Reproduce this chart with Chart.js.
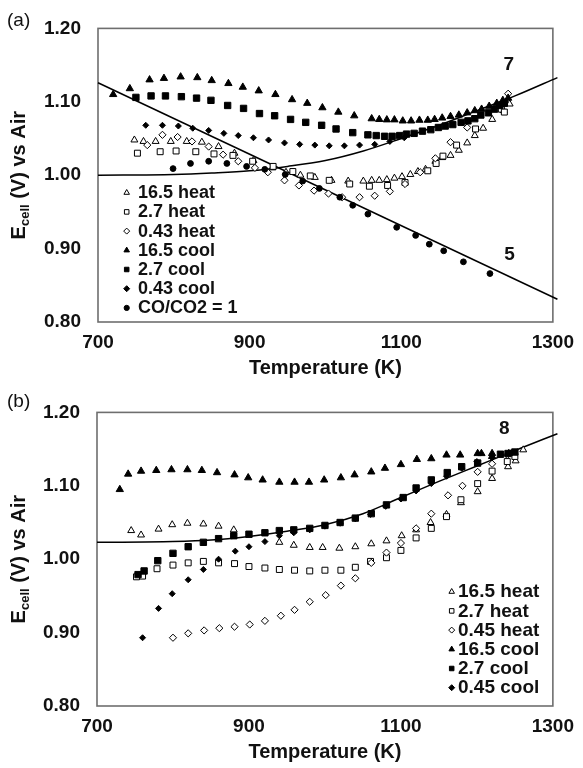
<!DOCTYPE html>
<html><head><meta charset="utf-8">
<script src="https://cdn.jsdelivr.net/npm/chart.js@4"></script>
<style>
html,body{margin:0;padding:0;background:#fff;}
.wrap{position:absolute;left:0;width:583px;height:384px;}
canvas{display:block;}
</style></head><body>
<div class="wrap" style="top:0"><canvas id="ca" width="583" height="384"></canvas></div>
<div class="wrap" style="top:384px"><canvas id="cb" width="583" height="384"></canvas></div>
<script>
// ---------- tick labels ----------
const xTicks = [700, 900, 1100, 1300];
const yTicks = [0.80, 0.90, 1.00, 1.10, 1.20];

// ---------- panel (a) ----------
const aLabels = ['16.5 heat', '2.7 heat', '0.43 heat', '16.5 cool', '2.7 cool', '0.43 cool', 'CO/CO2 = 1'];

const aT_165heat = [748, 760, 776, 796, 817, 837, 859, 880, 905, 930, 948, 967, 986, 1008, 1030, 1050, 1061, 1071, 1081, 1091, 1101, 1112, 1122, 1132, 1145, 1154, 1165, 1176, 1187, 1197, 1208, 1220, 1235, 1243];
const aE_165heat = [1.048, 1.046, 1.046, 1.046, 1.046, 1.045, 1.039, 1.030, 1.020, 1.010, 1.004, 1.000, 0.997, 0.993, 0.992, 0.992, 0.993, 0.993, 0.994, 0.996, 0.998, 1.001, 1.005, 1.008, 1.019, 1.024, 1.027, 1.034, 1.044, 1.054, 1.064, 1.076, 1.088, 1.097];

const aT_27heat = [752, 782, 803, 829, 853, 878, 904, 931, 957, 980, 1005, 1032, 1058, 1082, 1105, 1135, 1146, 1155, 1173, 1198, 1232, 1236];
const aE_27heat = [1.030, 1.032, 1.033, 1.032, 1.029, 1.027, 1.019, 1.012, 1.005, 0.999, 0.993, 0.988, 0.985, 0.986, 0.990, 1.006, 1.016, 1.026, 1.041, 1.063, 1.090, 1.086];

const aT_043heat = [765, 785, 805, 824, 846, 865, 885, 907, 924, 946, 965, 985, 1004, 1022, 1045, 1065, 1085, 1105, 1125, 1145, 1165, 1187, 1241];
const aE_043heat = [1.041, 1.055, 1.052, 1.046, 1.039, 1.028, 1.019, 1.010, 1.004, 0.993, 0.986, 0.979, 0.975, 0.970, 0.970, 0.972, 0.978, 0.988, 1.004, 1.023, 1.045, 1.065, 1.111];

const aT_165cool = [720, 742, 768, 787, 809, 831, 850, 872, 891, 912, 934, 956, 976, 996, 1017, 1038, 1061, 1071, 1081, 1091, 1102, 1113, 1124, 1135, 1144, 1154, 1165, 1176, 1187, 1197, 1206, 1216, 1226, 1234, 1241];
const aE_165cool = [1.110, 1.118, 1.130, 1.132, 1.134, 1.133, 1.129, 1.125, 1.120, 1.115, 1.110, 1.103, 1.098, 1.092, 1.086, 1.081, 1.077, 1.076, 1.0755, 1.0755, 1.074, 1.074, 1.075, 1.075, 1.076, 1.078, 1.080, 1.082, 1.085, 1.088, 1.090, 1.094, 1.098, 1.102, 1.105];

const aT_27cool = [750, 770, 789, 810, 830, 849, 871, 892, 913, 933, 954, 974, 995, 1014, 1036, 1056, 1067, 1078, 1088, 1098, 1107, 1117, 1128, 1139, 1149, 1158, 1168, 1179, 1188, 1197, 1205, 1215, 1223, 1230, 1236];
const aE_27cool = [1.106, 1.108, 1.108, 1.107, 1.105, 1.102, 1.095, 1.091, 1.084, 1.081, 1.076, 1.072, 1.068, 1.063, 1.058, 1.055, 1.054, 1.053, 1.053, 1.054, 1.056, 1.057, 1.060, 1.062, 1.065, 1.067, 1.069, 1.072, 1.074, 1.077, 1.082, 1.085, 1.090, 1.095, 1.098];

const aT_043cool = [763, 785, 806, 825, 846, 866, 885, 905, 925, 946, 966, 986, 1005, 1025, 1045, 1065, 1085, 1104];
const aE_043cool = [1.068, 1.068, 1.067, 1.064, 1.061, 1.057, 1.054, 1.051, 1.048, 1.044, 1.042, 1.041, 1.040, 1.040, 1.041, 1.042, 1.046, 1.051];

const aT_co = [799, 822, 846, 870, 896, 920, 947, 970, 992, 1019, 1036, 1056, 1094, 1119, 1137, 1156, 1182, 1217];
const aE_co = [1.009, 1.016, 1.019, 1.016, 1.012, 1.008, 1.001, 0.992, 0.982, 0.970, 0.959, 0.947, 0.929, 0.918, 0.906, 0.897, 0.882, 0.866];

const aT_line5 = [700, 1306];
const aE_line5 = [1.126, 0.831];
const aT_line7 = [700, 800, 850, 900, 950, 1000, 1050, 1100, 1150, 1200, 1250, 1306];
const aE_line7 = [1.000, 1.001, 1.003, 1.006, 1.012, 1.020, 1.033, 1.050, 1.068, 1.088, 1.108, 1.133];

// ---------- panel (b) ----------
const bLabels = ['16.5 heat', '2.7 heat', '0.45 heat', '16.5 cool', '2.7 cool', '0.45 cool'];

const bT_165heat = [745, 758, 781, 799, 819, 840, 860, 880, 940, 959, 980, 997, 1019, 1040, 1061, 1081, 1101, 1120, 1139, 1160, 1179, 1201, 1220, 1241, 1251, 1261];
const bE_165heat = [1.039, 1.033, 1.041, 1.047, 1.049, 1.048, 1.045, 1.040, 1.023, 1.019, 1.016, 1.016, 1.015, 1.017, 1.021, 1.025, 1.032, 1.040, 1.050, 1.061, 1.077, 1.092, 1.110, 1.126, 1.134, 1.149];

const bT_27heat = [752, 760, 779, 800, 820, 840, 860, 881, 900, 921, 940, 960, 980, 1000, 1021, 1040, 1060, 1081, 1100, 1120, 1140, 1160, 1179, 1201, 1220, 1240, 1250];
const bE_27heat = [0.976, 0.977, 0.987, 0.992, 0.995, 0.997, 0.995, 0.994, 0.990, 0.988, 0.986, 0.985, 0.984, 0.985, 0.985, 0.989, 0.997, 1.002, 1.012, 1.029, 1.042, 1.058, 1.081, 1.103, 1.120, 1.133, 1.140];

const bT_045heat = [800, 820, 841, 861, 881, 901, 921, 942, 960, 980, 1001, 1021, 1040, 1061, 1081, 1100, 1120, 1140, 1162, 1181, 1201, 1220, 1240];
const bE_045heat = [0.893, 0.899, 0.903, 0.906, 0.908, 0.911, 0.916, 0.923, 0.931, 0.942, 0.951, 0.964, 0.974, 0.995, 1.009, 1.022, 1.042, 1.062, 1.087, 1.100, 1.119, 1.130, 1.142];

const bT_165cool = [730, 741, 758, 778, 798, 819, 838, 858, 881, 899, 918, 940, 960, 979, 999, 1021, 1039, 1061, 1079, 1100, 1121, 1140, 1160, 1178, 1201, 1206, 1220, 1220, 1242];
const bE_165cool = [1.095, 1.116, 1.120, 1.121, 1.122, 1.122, 1.121, 1.118, 1.115, 1.111, 1.108, 1.105, 1.105, 1.105, 1.108, 1.111, 1.115, 1.119, 1.124, 1.129, 1.136, 1.137, 1.142, 1.142, 1.144, 1.144, 1.144, 1.140, 1.144];

const bT_27cool = [754, 762, 780, 800, 820, 840, 860, 880, 900, 921, 940, 959, 980, 1000, 1020, 1040, 1061, 1081, 1103, 1120, 1140, 1161, 1180, 1201, 1231, 1241, 1250];
const bE_27cool = [0.979, 0.984, 0.998, 1.008, 1.017, 1.023, 1.028, 1.032, 1.034, 1.036, 1.039, 1.040, 1.042, 1.046, 1.050, 1.056, 1.062, 1.074, 1.084, 1.097, 1.108, 1.118, 1.126, 1.131, 1.143, 1.144, 1.146];

const bT_045cool = [760, 781, 799, 820, 840, 860, 882, 900, 921, 940, 959, 980, 1000, 1020, 1040, 1060, 1080, 1100, 1120, 1140, 1160, 1180, 1200, 1220, 1245];
const bE_045cool = [0.893, 0.933, 0.953, 0.972, 0.986, 1.000, 1.011, 1.017, 1.024, 1.032, 1.036, 1.040, 1.045, 1.049, 1.055, 1.061, 1.072, 1.082, 1.093, 1.103, 1.113, 1.124, 1.133, 1.138, 1.145];

const bT_line8 = [700, 800, 850, 900, 950, 1000, 1050, 1100, 1150, 1200, 1250, 1306];
const bE_line8 = [1.023, 1.024, 1.026, 1.031, 1.038, 1.047, 1.062, 1.084, 1.106, 1.127, 1.148, 1.171];

// ---------- helpers ----------
const FONT = "'Liberation Sans', Arial, Helvetica, sans-serif";
const pts = (t, e) => t.map((x, i) => ({x: x, y: e[i]}));

const STY = {
  openTri:  {pointStyle: 'triangle', radius: 4,   fill: '#fff', lg: 3.2},
  openSq:   {pointStyle: 'rect',     radius: 4.2, fill: '#fff', lg: 3.2},
  openDia:  {pointStyle: 'rectRot',  radius: 3.6, fill: '#fff', lg: 3},
  fillTri:  {pointStyle: 'triangle', radius: 4.2, fill: '#000', lg: 3.2},
  fillSq:   {pointStyle: 'rect',     radius: 4.5, fill: '#000', lg: 3.2},
  fillDia:  {pointStyle: 'rectRot',  radius: 3,   fill: '#000', lg: 3},
  fillCirc: {pointStyle: 'circle',   radius: 2.9, fill: '#000', lg: 2.6}
};

function sds(label, data, st) {
  return {
    label: label, data: data, showLine: false,
    pointStyle: st.pointStyle, pointRadius: st.radius, pointHoverRadius: st.radius,
    pointBackgroundColor: st.fill, pointBorderColor: '#000', pointBorderWidth: 1,
    legendStyle: st
  };
}
function lds(data) {
  return {
    label: '', data: data, showLine: true, pointRadius: 0, pointHoverRadius: 0,
    borderColor: '#000', borderWidth: 1.5, tension: 0.4, cubicInterpolationMode: 'monotone',
    fill: false, clip: false
  };
}

function drawMarker(ctx, st, x, y, r) {
  ctx.save();
  ctx.fillStyle = st.fill; ctx.strokeStyle = '#000'; ctx.lineWidth = 1;
  ctx.beginPath();
  if (st.pointStyle === 'triangle') {
    for (let k = 0; k < 3; k++) {
      const a = k * 2 * Math.PI / 3;
      const px = x + Math.sin(a) * r, py = y - Math.cos(a) * r;
      if (k === 0) ctx.moveTo(px, py); else ctx.lineTo(px, py);
    }
    ctx.closePath();
  } else if (st.pointStyle === 'rect') {
    const s = r * Math.SQRT1_2;
    ctx.rect(x - s, y - s, 2 * s, 2 * s);
  } else if (st.pointStyle === 'rectRot') {
    ctx.moveTo(x - r, y); ctx.lineTo(x, y - r); ctx.lineTo(x + r, y); ctx.lineTo(x, y + r); ctx.closePath();
  } else {
    ctx.arc(x, y, r, 0, Math.PI * 2);
  }
  ctx.fill(); ctx.stroke();
  ctx.restore();
}

const decorPlugin = {
  id: 'decor',
  beforeDatasetsDraw(chart) {
    const ca = chart.chartArea, ctx = chart.ctx;
    ctx.save();
    ctx.strokeStyle = '#6e6e6e'; ctx.lineWidth = 1.6;
    ctx.strokeRect(ca.left, ca.top, ca.right - ca.left, ca.bottom - ca.top);
    ctx.restore();
  },
  afterDraw(chart, args, opts) {
    const ctx = chart.ctx, ca = chart.chartArea;
    const xs = chart.scales.x, ys = chart.scales.y;
    ctx.save();
    ctx.fillStyle = '#111';
    // panel tag
    ctx.font = '19px ' + FONT;
    ctx.textBaseline = 'middle'; ctx.textAlign = 'left';
    ctx.fillText(opts.tag, opts.tagX, opts.tagY);
    // y axis title with subscript
    ctx.save();
    const cy = (ca.top + ca.bottom) / 2;
    ctx.translate(opts.yTitleX, cy);
    ctx.rotate(-Math.PI / 2);
    ctx.textBaseline = 'alphabetic';
    const big = 'bold 20px ' + FONT, small = 'bold 13px ' + FONT;
    ctx.font = big; const w1 = ctx.measureText('E').width;
    const w3 = ctx.measureText(' (V) vs Air').width;
    ctx.font = small; const w2 = ctx.measureText('cell').width;
    let sx = -(w1 + w2 + w3) / 2;
    ctx.font = big; ctx.fillText('E', sx, 0); sx += w1;
    ctx.font = small; ctx.fillText('cell', sx, 4); sx += w2;
    ctx.font = big; ctx.fillText(' (V) vs Air', sx, 0);
    ctx.restore();
    // curve labels
    ctx.font = 'bold 19px ' + FONT;
    ctx.textAlign = 'center'; ctx.textBaseline = 'middle';
    opts.curveLabels.forEach(c => {
      ctx.fillText(c.text, xs.getPixelForValue(c.x), ys.getPixelForValue(c.y));
    });
    // legend
    const lg = opts.legend;
    ctx.font = 'bold ' + lg.size + 'px ' + FONT;
    ctx.textAlign = 'left'; ctx.textBaseline = 'middle';
    let row = 0;
    lg.order.forEach(label => {
      const ds = chart.data.datasets.find(d => d.label === label);
      const y = lg.y0 + row * lg.dy;
      drawMarker(ctx, ds.legendStyle, lg.mx, y, ds.legendStyle.lg);
      ctx.fillStyle = '#111';
      ctx.fillText(label, lg.tx, y + 0.5);
      row++;
    });
    ctx.restore();
  }
};

function makeChart(id, datasets, layoutPad, yWidth, decor) {
  return new Chart(document.getElementById(id), {
    type: 'scatter',
    data: {datasets: datasets},
    plugins: [decorPlugin],
    options: {
      responsive: false, animation: false, devicePixelRatio: 1,
      layout: {padding: layoutPad},
      plugins: {legend: {display: false}, tooltip: {enabled: false}, decor: decor},
      scales: {
        x: {
          type: 'linear', min: 700, max: 1300,
          grid: {display: false, drawTicks: false}, border: {display: false},
          afterBuildTicks: s => { s.ticks = xTicks.map(v => ({value: v})); },
          afterFit: s => { s.height = 62; },
          ticks: {padding: 9, color: '#111', font: {family: FONT, size: 19, weight: 'bold'}, callback: v => String(v), maxRotation: 0, autoSkip: false},
          title: {display: true, text: 'Temperature (K)', color: '#111', font: {family: FONT, size: 20, weight: 'bold'}, padding: {top: 0, bottom: 4}}
        },
        y: {
          min: 0.8, max: 1.2,
          grid: {display: false, drawTicks: false}, border: {display: false},
          afterBuildTicks: s => { s.ticks = yTicks.map(v => ({value: v})); },
          afterFit: s => { s.width = yWidth; },
          ticks: {padding: 17, color: '#111', font: {family: FONT, size: 19, weight: 'bold'}, callback: v => Number(v).toFixed(2), autoSkip: false}
        }
      }
    }
  });
}

// ---------- panel (a) ----------
const aSeries = [
  sds(aLabels[0], pts(aT_165heat, aE_165heat), STY.openTri),
  sds(aLabels[1], pts(aT_27heat, aE_27heat), STY.openSq),
  sds(aLabels[2], pts(aT_043heat, aE_043heat), STY.openDia),
  sds(aLabels[3], pts(aT_165cool, aE_165cool), STY.fillTri),
  sds(aLabels[4], pts(aT_27cool, aE_27cool), STY.fillSq),
  sds(aLabels[5], pts(aT_043cool, aE_043cool), STY.fillDia),
  sds(aLabels[6], pts(aT_co, aE_co), STY.fillCirc)
];
const aDatasets = aSeries.slice().reverse().concat([lds(pts(aT_line5, aE_line5)), lds(pts(aT_line7, aE_line7))]);
makeChart('ca', aDatasets, {top: 20, right: 24, left: 0, bottom: 0}, 98, {
  tag: '(a)', tagX: 7, tagY: 21, yTitleX: 25,
  curveLabels: [{text: '7', x: 1242, y: 1.151}, {text: '5', x: 1243, y: 0.891}],
  legend: {order: aLabels, mx: 126.7, tx: 138, y0: 192.7, dy: 19.2, size: 18}
});

// ---------- panel (b) ----------
const bSeries = [
  sds(bLabels[0], pts(bT_165heat, bE_165heat), STY.openTri),
  sds(bLabels[1], pts(bT_27heat, bE_27heat), STY.openSq),
  sds(bLabels[2], pts(bT_045heat, bE_045heat), STY.openDia),
  sds(bLabels[3], pts(bT_165cool, bE_165cool), STY.fillTri),
  sds(bLabels[4], pts(bT_27cool, bE_27cool), STY.fillSq),
  sds(bLabels[5], pts(bT_045cool, bE_045cool), STY.fillDia)
];
const bDatasets = bSeries.slice().reverse().concat([lds(pts(bT_line8, bE_line8))]);
makeChart('cb', bDatasets, {top: 15, right: 25, left: 0, bottom: 0}, 97, {
  tag: '(b)', tagX: 7, tagY: 18, yTitleX: 25,
  curveLabels: [{text: '8', x: 1236, y: 1.178}],
  legend: {order: bLabels, mx: 451.7, tx: 458, y0: 207.7, dy: 19.2, size: 19}
});
</script>
</body></html>
